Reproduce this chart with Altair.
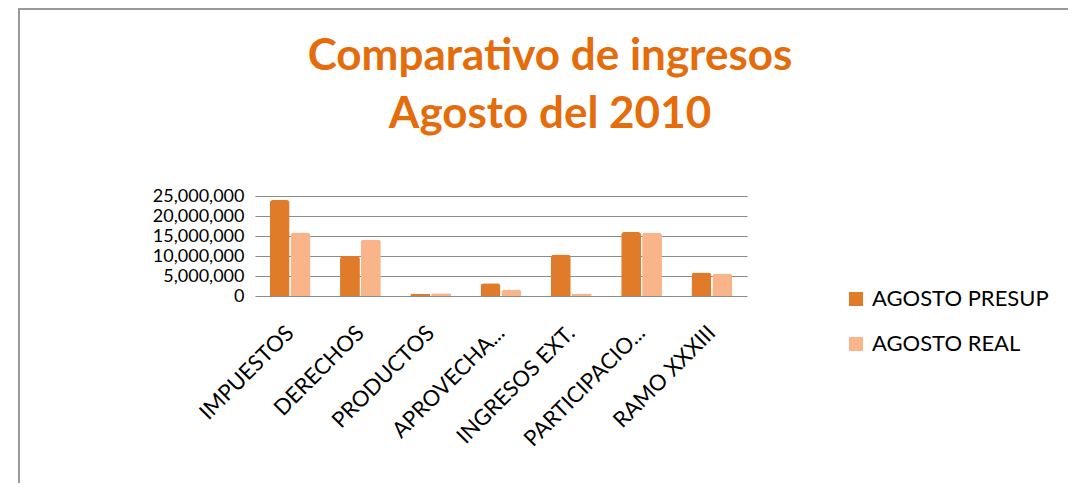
import altair as alt
import pandas as pd

categories = ["IMPUESTOS", "DERECHOS", "PRODUCTOS", "APROVECHA...", "INGRESOS EXT.", "PARTICIPACIO...", "RAMO XXXIII"]
presup = [24000000, 10000000, 500000, 3200000, 10400000, 16000000, 5900000]
real = [15900000, 14100000, 700000, 1600000, 600000, 15800000, 5600000]
series = ["AGOSTO PRESUP", "AGOSTO REAL"]
colors = ["#E07B2A", "#FAB48A"]
y_ticks = [0, 5000000, 10000000, 15000000, 20000000, 25000000]
title_lines = ["Comparativo de ingresos", "Agosto del 2010"]

rows = []
for c, p, r in zip(categories, presup, real):
    rows.append({"cat": c, "serie": series[0], "valor": p})
    rows.append({"cat": c, "serie": series[1], "valor": r})
df = pd.DataFrame(rows)

FONT = "Lato"
W, H = 492, 100

bars = alt.Chart(df).mark_bar(cornerRadiusTopLeft=3, cornerRadiusTopRight=3).encode(
    x=alt.X("cat:N", sort=categories, title=None,
            scale=alt.Scale(paddingInner=0.42, paddingOuter=0.21),
            axis=alt.Axis(labelAngle=-45, labelFontSize=22, labelFont=FONT, labelColor="#000",
                          labelPadding=33, ticks=False, domain=False, labelAlign="right",
                          labelBaseline="middle", labelOverlap=False, labelLimit=300)),
    xOffset=alt.XOffset("serie:N", sort=series, scale=alt.Scale(paddingInner=0.05)),
    y=alt.Y("valor:Q", title=None,
            scale=alt.Scale(domain=[0, 25000000], nice=False),
            axis=alt.Axis(values=y_ticks, format=",d", labelFontSize=18, labelFont=FONT,
                          labelColor="#000", ticks=False, domain=False, gridColor="#8c8c8c",
                          gridWidth=1.2, labelPadding=11, labelOverlap=False)),
    color=alt.Color("serie:N", sort=series,
                    scale=alt.Scale(domain=series, range=colors),
                    legend=alt.Legend(title=None, orient="none", legendX=590, legendY=92,
                                      symbolType="square", symbolSize=196, symbolStrokeWidth=0,
                                      labelFontSize=22, labelFont=FONT, labelColor="#000",
                                      rowPadding=23, labelOffset=5, labelLimit=400)),
)

title_df = pd.DataFrame({"t": title_lines, "i": [0, 1]})
title1 = alt.Chart(title_df.iloc[[0]]).mark_text(
    font=FONT, fontSize=44, fontWeight="bold", color="#E46C0A", align="center", baseline="alphabetic"
).encode(text="t:N", x=alt.value(295), y=alt.value(-126))
title2 = alt.Chart(title_df.iloc[[1]]).mark_text(
    font=FONT, fontSize=44, fontWeight="bold", color="#E46C0A", align="center", baseline="alphabetic"
).encode(text="t:N", x=alt.value(295), y=alt.value(-68))

frame_left = alt.Chart(pd.DataFrame({"k": [0]})).mark_rule(color="#9a9a9a", strokeWidth=2).encode(
    x=alt.value(-236), y=alt.value(-188), y2=alt.value(290))
frame_top = alt.Chart(pd.DataFrame({"k": [0]})).mark_rule(color="#9a9a9a", strokeWidth=2).encode(
    x=alt.value(-236), x2=alt.value(830), y=alt.value(-187))

chart = alt.layer(bars, title1, title2, frame_left, frame_top).properties(
    width=W, height=H,
    autosize=alt.AutoSizeParams(type="none"),
    padding={"left": 247, "top": 188, "right": 321, "bottom": 187},
).configure_view(stroke=None)

chart.save("out.html", embed_options={"renderer": "svg", "actions": False})
